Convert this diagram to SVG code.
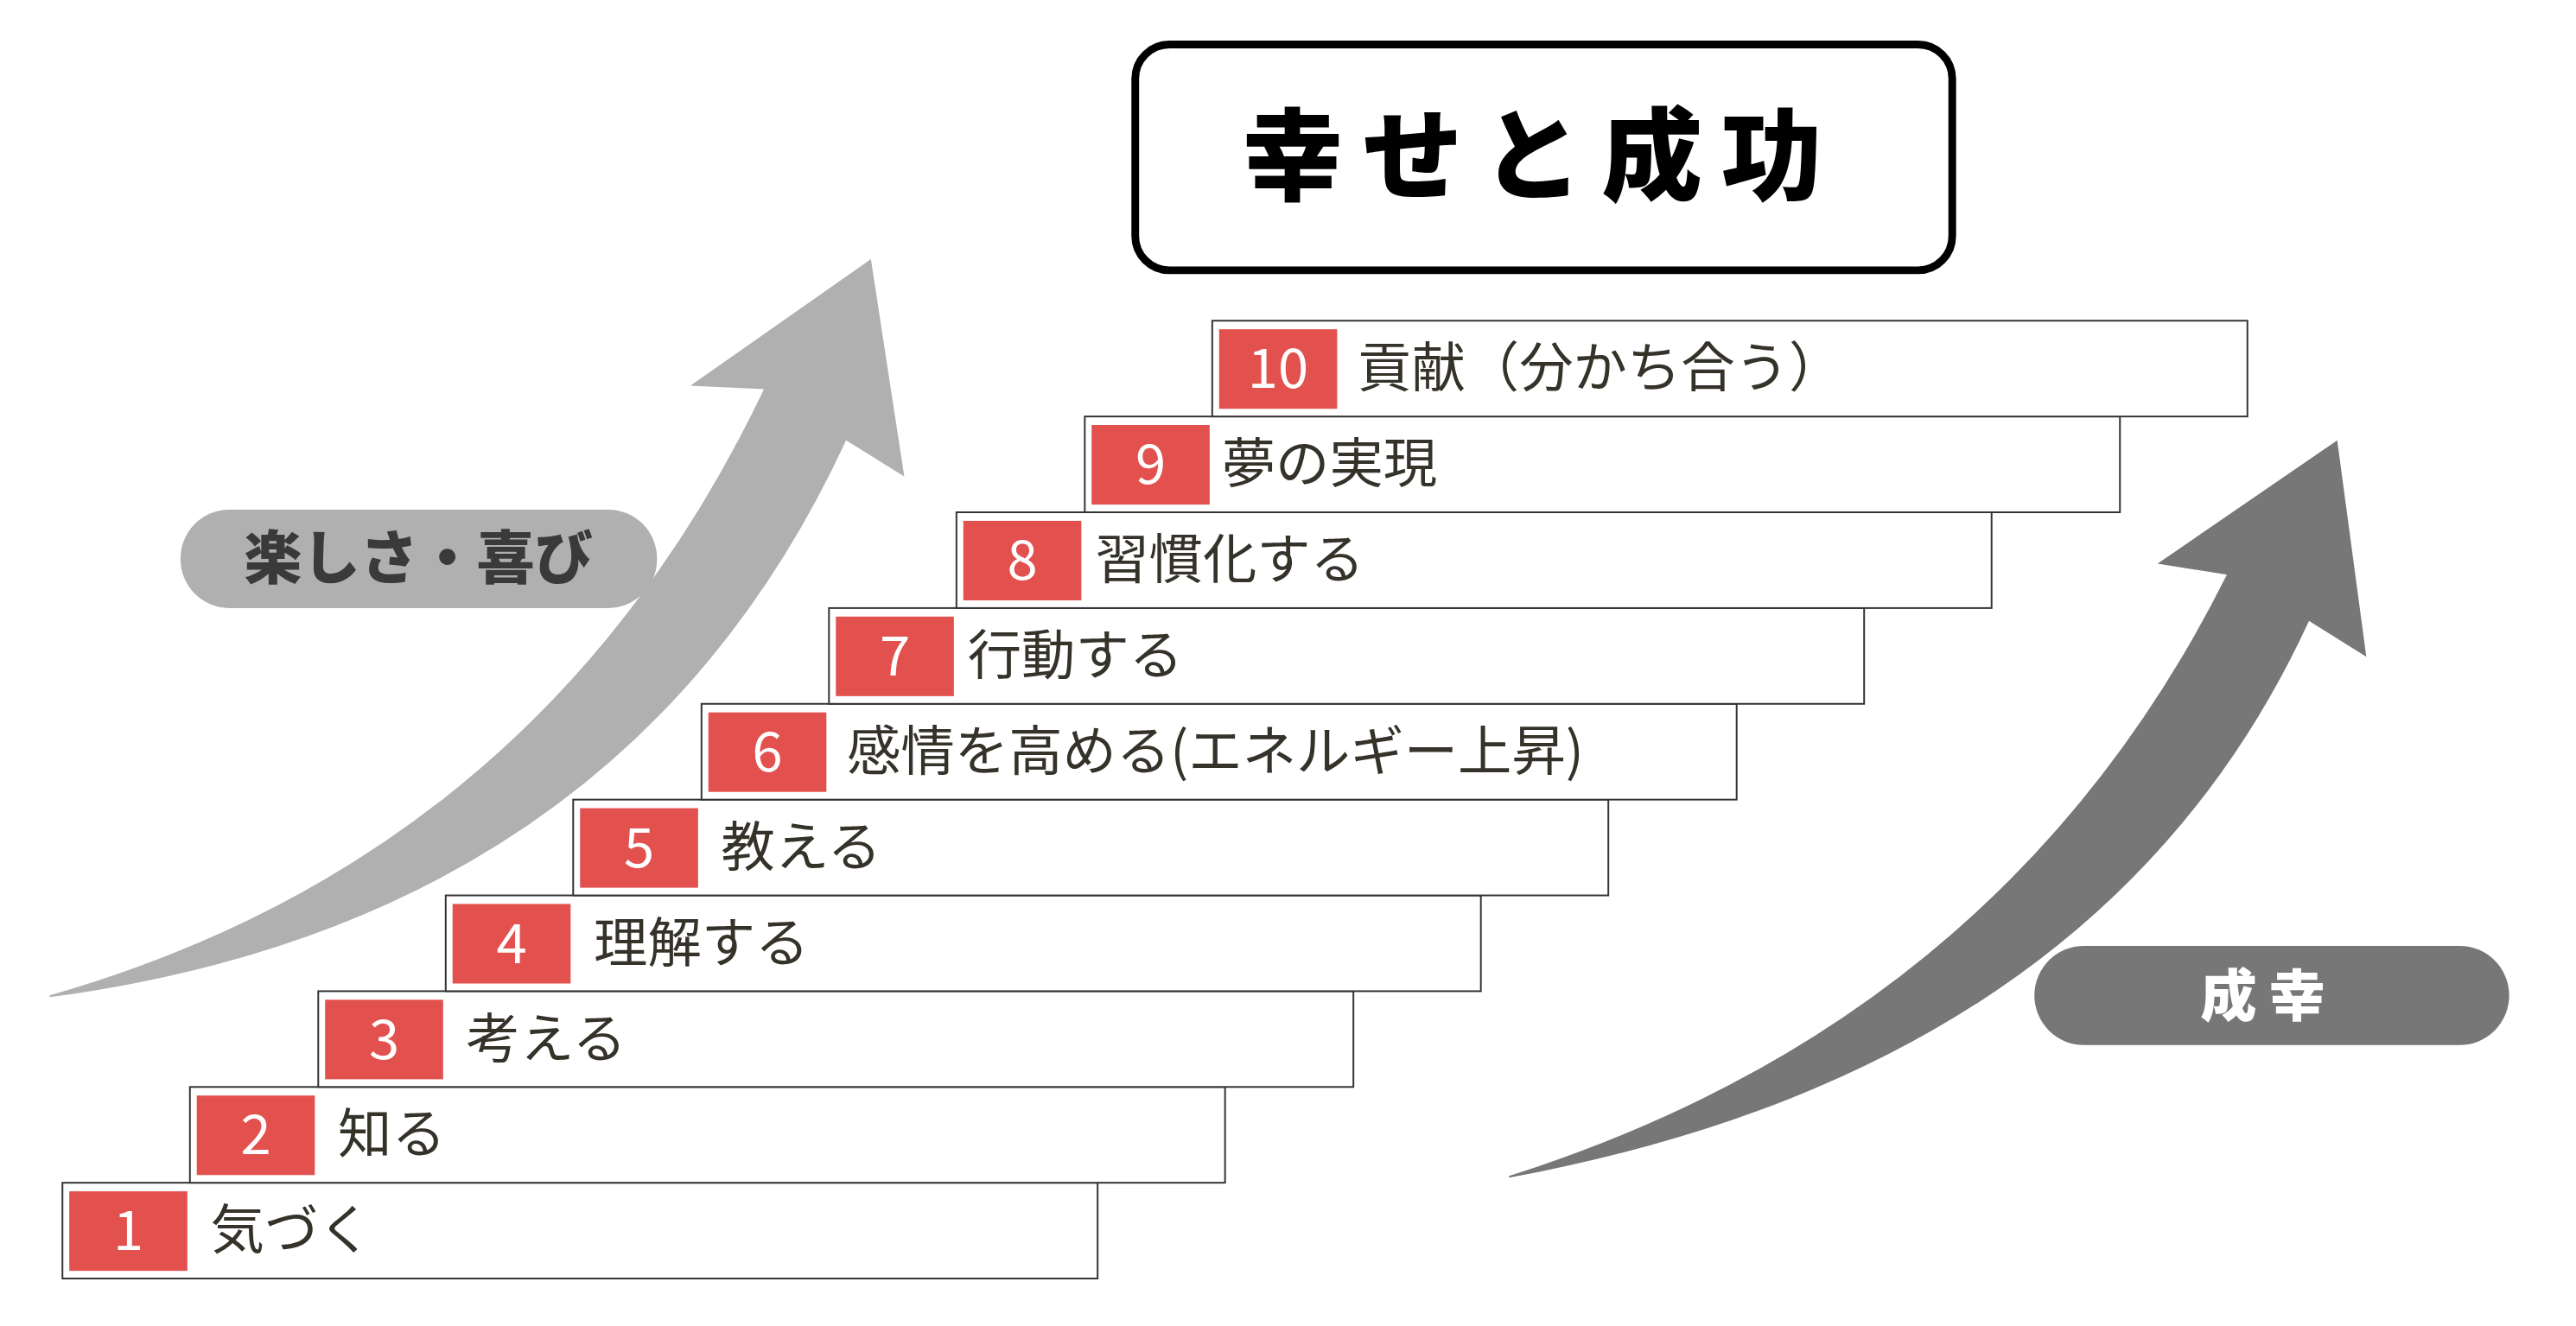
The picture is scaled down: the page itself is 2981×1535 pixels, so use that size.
<svg xmlns="http://www.w3.org/2000/svg" width="2981" height="1535" viewBox="0 0 2981 1535">
<style>
.box{fill:#fff;stroke:#333;stroke-width:2}
.num{fill:#e3514f}
.nt{font-family:"Noto Sans CJK JP",sans-serif;font-size:64px;fill:#fff;text-anchor:middle}
.lt{font-family:"Noto Sans CJK JP",sans-serif;font-size:63px;fill:#35322a}
</style>
<rect width="2981" height="1535" fill="#fff"/>
<g transform="scale(0.99)">
<g id="arrow-left"><path d="M58,1164 Q634,999 893,455 L807,451 L1018,303 L1057,557 L989,515 Q730,1076 58,1166 Z" fill="#b0b0b0"/></g>
<g id="arrow-right"><path d="M1764,1375 Q2344,1191 2603,672 L2522,659 L2732,515 L2766,768 L2699,726 Q2459,1249 1764,1377 Z" fill="#777"/></g>
<g id="title"><rect x="1327" y="52" width="955" height="264" rx="40" fill="#fff" stroke="#000" stroke-width="9"/>
<text x="1802" y="225" font-family="Noto Sans CJK JP,sans-serif" font-weight="900" font-size="118" text-anchor="middle" letter-spacing="22">幸せと成功</text></g>
<g id="pill-left"><rect x="211" y="596" width="557" height="115" rx="57" fill="#b0b0b0"/>
<text x="489" y="677" font-family="Noto Sans CJK JP,sans-serif" font-weight="900" font-size="68" text-anchor="middle" fill="#3a3a3a">楽しさ・喜び</text></g>
<g id="pill-right"><rect x="2378" y="1106" width="555" height="116" rx="58" fill="#777"/>
<text x="2652" y="1188" font-family="Noto Sans CJK JP,sans-serif" font-weight="900" font-size="66" text-anchor="middle" fill="#fff" letter-spacing="14">成幸</text></g>
<g id="step1"><rect class="box" x="73" y="1383" width="1210" height="112"/><rect class="num" x="81" y="1393" width="138" height="93"/><text class="nt" x="150" y="1462">1</text><text class="lt" x="246" y="1461">気づく</text></g>
<g id="step2"><rect class="box" x="222" y="1271" width="1210" height="112"/><rect class="num" x="230" y="1281" width="138" height="93"/><text class="nt" x="299" y="1350">2</text><text class="lt" x="395" y="1349">知る</text></g>
<g id="step3"><rect class="box" x="372" y="1159" width="1210" height="112"/><rect class="num" x="380" y="1169" width="138" height="93"/><text class="nt" x="449" y="1238">3</text><text class="lt" x="545" y="1237">考える</text></g>
<g id="step4"><rect class="box" x="521" y="1047" width="1210" height="112"/><rect class="num" x="529" y="1057" width="138" height="93"/><text class="nt" x="598" y="1126">4</text><text class="lt" x="694" y="1125">理解する</text></g>
<g id="step5"><rect class="box" x="670" y="935" width="1210" height="112"/><rect class="num" x="678" y="945" width="138" height="93"/><text class="nt" x="747" y="1014">5</text><text class="lt" x="843" y="1013">教える</text></g>
<g id="step6"><rect class="box" x="820" y="823" width="1210" height="112"/><rect class="num" x="828" y="833" width="138" height="93"/><text class="nt" x="897" y="902">6</text><text class="lt" x="990" y="901">感情を高める(エネルギー上昇)</text></g>
<g id="step7"><rect class="box" x="969" y="711" width="1210" height="112"/><rect class="num" x="977" y="721" width="138" height="93"/><text class="nt" x="1046" y="790">7</text><text class="lt" x="1131" y="789">行動する</text></g>
<g id="step8"><rect class="box" x="1118" y="599" width="1210" height="112"/><rect class="num" x="1126" y="609" width="138" height="93"/><text class="nt" x="1195" y="678">8</text><text class="lt" x="1280" y="677">習慣化する</text></g>
<g id="step9"><rect class="box" x="1268" y="487" width="1210" height="112"/><rect class="num" x="1276" y="497" width="138" height="93"/><text class="nt" x="1345" y="566">9</text><text class="lt" x="1428" y="565">夢の実現</text></g>
<g id="step10"><rect class="box" x="1417" y="375" width="1210" height="112"/><rect class="num" x="1425" y="385" width="138" height="93"/><text class="nt" x="1494" y="454">10</text><text class="lt" x="1587" y="453">貢献（分かち合う）</text></g>
<g id="connectors"/>
</g>
</svg>
